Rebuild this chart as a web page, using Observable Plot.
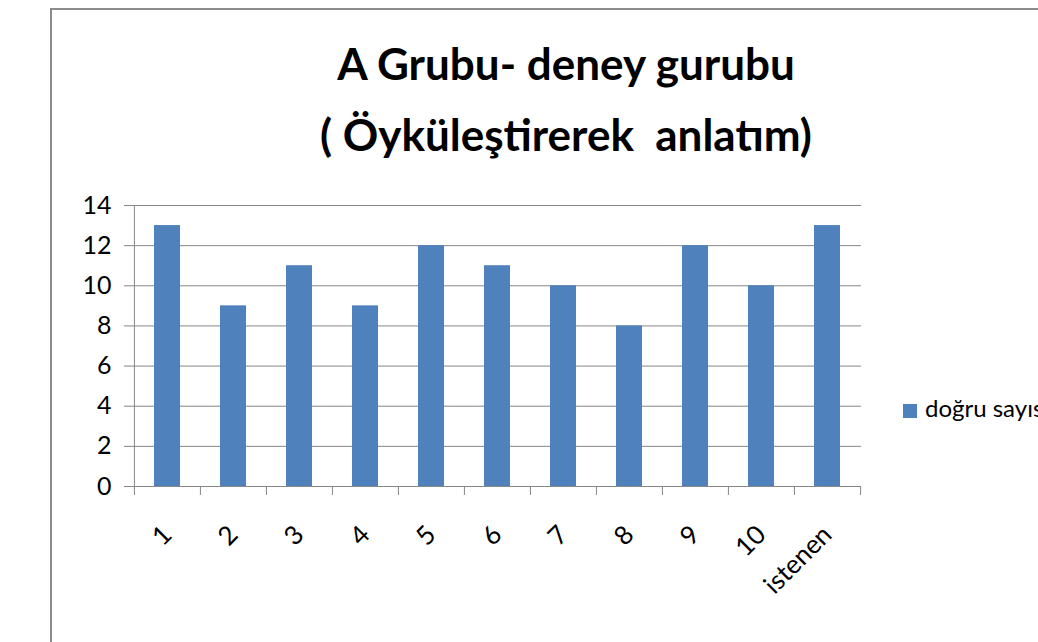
<!DOCTYPE html>
<html><head><meta charset="utf-8">
<script src="https://cdn.jsdelivr.net/npm/d3@7"></script>
<script src="https://cdn.jsdelivr.net/npm/@observablehq/plot@0.6"></script>
<style>
body{margin:0;background:#fff;overflow:hidden;width:1038px;height:642px;position:relative;font-family:Lato,"Open Sans",sans-serif}
#frame{position:absolute;left:50px;top:8px;width:1200px;height:800px;border:2px solid #8c8c8c;box-sizing:border-box}
.t{position:absolute;left:0;width:1132px;text-align:center;font-weight:bold;font-size:44px;line-height:44px;color:#000;white-space:pre}
#chart{position:absolute;left:0;top:180px}
#legend{position:absolute;left:903px;top:394px;font-size:24px;line-height:28px;white-space:nowrap;color:#000}
#legend .sw{display:inline-block;width:14px;height:14px;background:#4F81BD;margin-right:8px;vertical-align:-1px}
</style></head>
<body>
<div id="frame"></div>
<div class="t" id="t1" style="top:41px"></div>
<div class="t" id="t2" style="top:112px"></div>
<div id="chart"></div>
<div id="legend"><span class="sw"></span><span id="lt"></span></div>
<script>
const titleLines = ["A Grubu- deney gurubu", "( Öyküleştirerek  anlatım)"];
const seriesName = "doğru sayısı";
const categories = ["1","2","3","4","5","6","7","8","9","10","istenen"];
const values = [13,9,11,9,12,11,10,8,12,10,13];
const yTicks = [0,2,4,6,8,10,12,14];

document.getElementById("t1").textContent = titleLines[0];
document.getElementById("t2").textContent = titleLines[1];
document.getElementById("lt").textContent = seriesName;

const data = categories.map((c,i)=>({cat:c, v:values[i]}));
const W=1038, H=462, mL=133, mR=177, mT=25, mB=156;
const bw = (W-mL-mR)/categories.length;
const grey = "#868686";

const chart = Plot.plot({
  width:W, height:H, marginLeft:mL, marginRight:mR, marginTop:mT, marginBottom:mB,
  style:{fontFamily:"Lato, 'Open Sans', sans-serif", fontSize:"25px", color:"#000", background:"transparent"},
  x:{domain:categories, padding:0, label:null},
  y:{domain:[0,14], label:null},
  marks:[
    Plot.gridY(yTicks, {stroke:grey, strokeOpacity:1, strokeWidth:1}),
    Plot.axisY({ticks:yTicks, tickSize:9, tickPadding:13, stroke:grey, fill:"#000", label:null, fontSize:25}),
    Plot.ruleX([categories[0]], {x:d=>d, dx:-bw/2, y1:0, y2:14, stroke:grey}),
    Plot.barY(data, {x:"cat", y:"v", fill:"#4F81BD", insetLeft:20, insetRight:20}),
    Plot.ruleY([0], {stroke:grey}),
    Plot.axisX({ticks:categories, tickSize:9, dx:-bw/2, text:null, stroke:grey, label:null}),
    Plot.axisX({ticks:[categories[categories.length-1]], tickSize:9, dx:bw/2, text:null, stroke:grey, label:null}),
    Plot.axisX({ticks:categories, tickSize:0, tickPadding:44, tickRotate:-45, fill:"#000", label:null, fontSize:26})
  ]
});
document.getElementById("chart").appendChild(chart);
</script>
</body></html>
